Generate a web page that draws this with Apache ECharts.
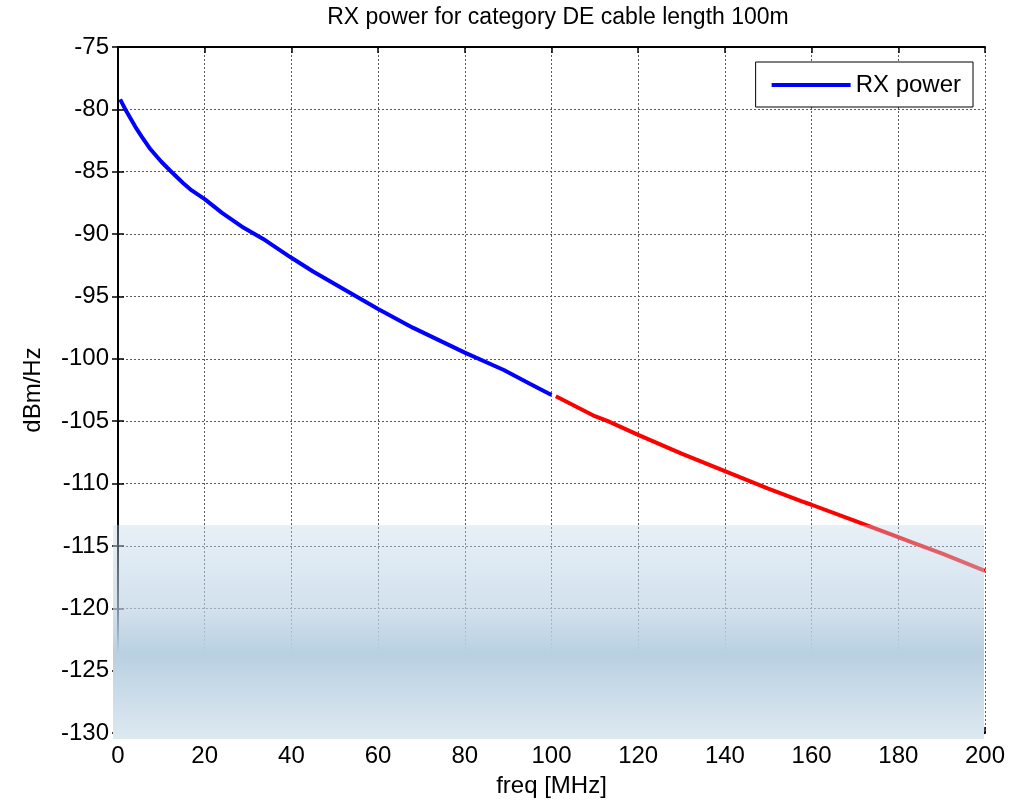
<!DOCTYPE html>
<html>
<head>
<meta charset="utf-8">
<title>RX power</title>
<script src="https://cdn.jsdelivr.net/npm/echarts@6/dist/echarts.min.js"></script>
<style>
    html, body { margin: 0; padding: 0; background: #fff; }
    #chart { width: 1019px; height: 803px; }
</style>
</head>
<body>
<div id="chart"></div>
<script>
// values
var freqBlue = [0.5, 2, 4, 5.5, 7.5, 10, 12, 15, 17, 20, 24, 29, 34, 40, 45, 50, 55, 60, 68, 74, 80, 89, 95, 100];
var powerBlue = [-79.2, -80.2, -81.4, -82.2, -83.2, -84.2, -84.9, -85.9, -86.5, -87.2, -88.3, -89.5, -90.5, -91.9, -93.0, -94.0, -95.0, -96.0, -97.5, -98.5, -99.5, -100.9, -102.0, -102.9];
var freqRed = [101, 110, 113, 120, 130, 140, 150, 157.6, 160, 170, 180, 183, 190, 200];
var powerRed = [-103.0, -104.6, -105.0, -106.1, -107.6, -109.0, -110.4, -111.4, -111.7, -113.0, -114.3, -114.7, -115.6, -117.0];

function pairs(xs, ys) {
    var out = [];
    for (var i = 0; i < xs.length; i++) out.push([xs[i], ys[i]]);
    return out;
}

var chart = echarts.init(document.getElementById('chart'));
var fontName = '"Liberation Sans"';

var gridLine = {show: true, lineStyle: {color: '#5a5a5a', type: [2, 2], width: 1}};
var boxLine = {show: true, lineStyle: {color: '#000', width: 2}};
var tickIn = {show: true, inside: true, length: 6, lineStyle: {color: '#000', width: 1.5}};

option = {
    animation: false,
    backgroundColor: '#fff',
    title: {
        text: 'RX power for category DE cable length 100m',
        left: 553,
        top: 1,
        textAlign: 'center',
        textStyle: {fontFamily: fontName, fontSize: 23, fontWeight: 'normal', color: '#000'}
    },
    grid: {left: 118, right: 34, top: 47, bottom: 70},
    legend: {
        data: ['RX power'],
        right: 46,
        top: 62,
        icon: 'rect',
        itemWidth: 79,
        itemHeight: 4,
        itemGap: 10,
        padding: [11, 12, 10, 16],
        backgroundColor: '#fff',
        borderColor: '#000',
        borderWidth: 1,
        textStyle: {fontFamily: fontName, fontSize: 24, color: '#000'}
    },
    xAxis: [
        {
            type: 'value',
            min: 0, max: 200, interval: 20,
            position: 'bottom',
            name: 'freq [MHz]',
            nameLocation: 'middle',
            nameGap: 41,
            nameTextStyle: {fontFamily: fontName, fontSize: 24, color: '#000'},
            axisLine: boxLine,
            axisTick: tickIn,
            axisLabel: {fontFamily: fontName, fontSize: 24, color: '#000', margin: 11},
            splitLine: gridLine
        },
        {
            type: 'value',
            min: 0, max: 200, interval: 20,
            position: 'top',
            axisLine: boxLine,
            axisTick: tickIn,
            axisLabel: {show: false},
            splitLine: {show: false}
        }
    ],
    yAxis: [
        {
            type: 'value',
            min: -130, max: -75, interval: 5,
            position: 'left',
            name: 'dBm/Hz',
            nameLocation: 'middle',
            nameGap: 73,
            nameTextStyle: {fontFamily: fontName, fontSize: 24, color: '#000'},
            axisLine: boxLine,
            axisTick: tickIn,
            axisLabel: {fontFamily: fontName, fontSize: 24, color: '#000', margin: 9},
            splitLine: gridLine
        },
        {
            type: 'value',
            min: -130, max: -75, interval: 5,
            position: 'right',
            axisLine: boxLine,
            axisTick: tickIn,
            axisLabel: {show: false},
            splitLine: {show: false}
        }
    ],
    series: [
        {
            name: 'RX power',
            type: 'line',
            data: pairs(freqBlue, powerBlue),
            showSymbol: false,
            lineStyle: {color: '#0000ff', width: 4},
            itemStyle: {color: '#0000ff'},
            z: 3
        },
        {
            name: 'upper band',
            type: 'line',
            data: pairs(freqRed, powerRed),
            showSymbol: false,
            lineStyle: {color: '#ff0000', width: 4},
            itemStyle: {color: '#ff0000'},
            z: 3
        }
    ],
    // light blue overlay at the bottom of the plot
    graphic: [
        {
            type: 'rect',
            z: 100,
            silent: true,
            shape: {x: 113, y: 525, width: 871, height: 214},
            style: {
                fill: new echarts.graphic.LinearGradient(0, 0, 0, 1, [
                    {offset: 0, color: 'rgba(189,212,232,0.35)'},
                    {offset: 0.4, color: 'rgba(188,210,228,0.68)'},
                    {offset: 0.6, color: 'rgba(185,208,225,1)'},
                    {offset: 1, color: 'rgba(221,233,241,1)'}
                ])
            }
        }
    ]
};
chart.setOption(option);
</script>
</body>
</html>
